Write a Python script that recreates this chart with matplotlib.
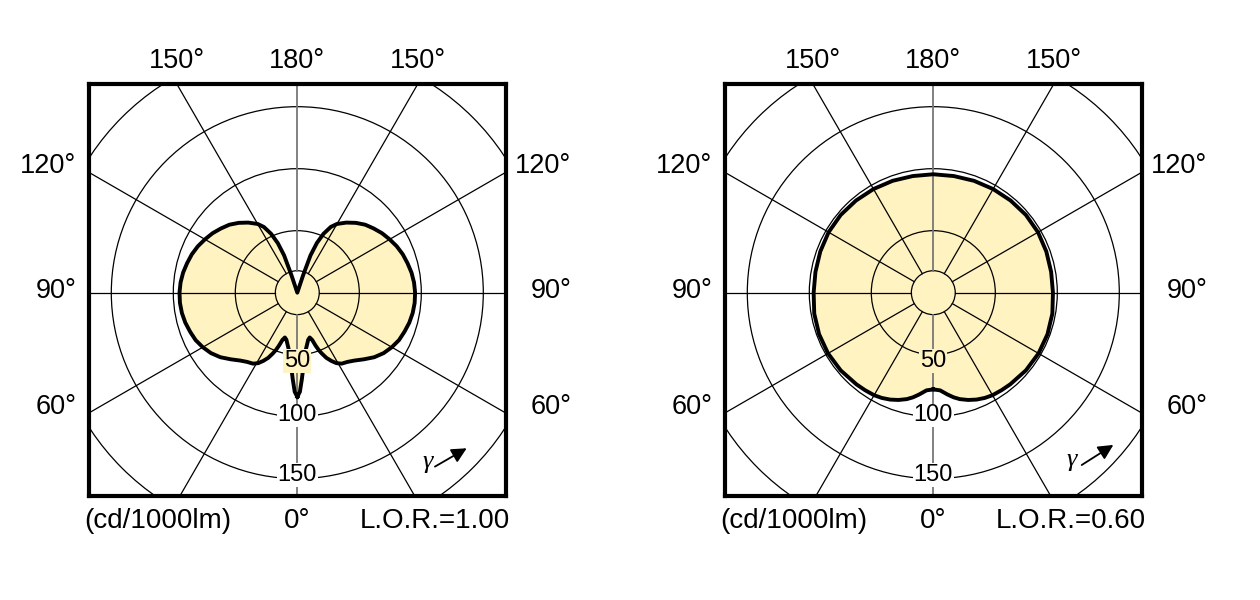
import numpy as np
import matplotlib
matplotlib.use("Agg")
import matplotlib.pyplot as plt
from matplotlib.patches import Circle


# luminous intensity (cd/1000lm), gamma 0 = straight down
LEFT_GAMMA = [0, 1.5, 3, 4.5, 6.5, 9, 11, 13, 15.5, 17.5, 19, 20.5, 22, 24, 26.5,
              29, 32, 36, 40, 45, 50, 55, 60, 65, 70, 75, 80, 85, 90, 95, 100,
              105, 110, 115, 120, 125, 130, 135, 140, 145, 150, 153, 156, 158.5,
              160.5, 161.5, 162, 180]
LEFT_CD = [84, 80, 70, 61, 52, 45.5, 42, 39, 37.5, 40, 45, 49.5, 53, 57.5, 61.5,
           65, 67.5, 69, 71.5, 76, 81, 85, 88, 90.5, 92, 93.5, 94.5, 95, 95, 94.5,
           93.5, 92, 90.5, 88.5, 86, 83.5, 80.5, 77.5, 73.5, 69, 64, 59.5, 52, 43,
           32, 15, 0, 0]

RIGHT_GAMMA = [0, 4, 8, 11, 14, 18, 22, 26, 30, 35, 40, 50, 60, 70, 80, 90, 100,
               110, 120, 130, 140, 150, 160, 170, 180]
RIGHT_CD = [78, 79, 83, 86, 88.5, 91, 93, 94.5, 95.5, 96, 96.5, 97.5, 98, 98,
            97.5, 96.5, 96.5, 97, 97.5, 97.5, 97, 96.5, 96, 95.5, 95.5]

LOR_LABELS = ["L.O.R.=1.00", "L.O.R.=0.60"]
RINGS = [50, 100, 150, 200]
RING_LABELS = ["50", "100", "150"]
INNER_RING = 17.7
SPOKES = list(range(0, 360, 30))
TOP_LABELS = ["150°", "180°", "150°"]
SIDE_LABELS = ["120°", "90°", "60°"]

FILL = "#fff3c2"
FONT = ["Liberation Sans", "DejaVu Sans"]

PX = 1.24          # pixels per cd/1000lm
HALF = 168         # half box width in data units


def draw_panel(ax, gamma, cd, lor):
    g = np.radians(gamma)
    r = np.asarray(cd, dtype=float)
    xr = r * np.sin(g)
    yr = -r * np.cos(g)
    x = np.concatenate([xr, -xr[::-1]])
    y = np.concatenate([yr, yr[::-1]])

    ax.fill(x, y, color=FILL, lw=0, zorder=1)

    for rad in RINGS + [INNER_RING]:
        ax.add_patch(Circle((0, 0), rad, fill=False, lw=0.9, ec="black", zorder=2))
    for a in SPOKES:
        t = np.radians(a)
        grey = a in (0, 180)
        ax.plot([INNER_RING * np.sin(t), 400 * np.sin(t)],
                [-INNER_RING * np.cos(t), -400 * np.cos(t)],
                color="#777777" if grey else "black",
                lw=1.3 if grey else 0.9, zorder=2)

    ax.plot(x, y, color="black", lw=2.8, solid_joinstyle="round", zorder=3)

    for rad, lab, yy in zip(RINGS, RING_LABELS, [-55, -99, -147]):
        bg = FILL if rad == 50 else "white"
        ax.text(0, yy, lab, ha="center", va="center", fontsize=17, family=FONT,
                zorder=4, bbox=dict(boxstyle="square,pad=0.03", fc=bg, ec="none"))

    ax.set_xlim(-HALF, HALF)
    ax.set_ylim(-164.0, 168.3)
    ax.set_xticks([])
    ax.set_yticks([])
    for s in ax.spines.values():
        s.set_linewidth(3)
        s.set_zorder(5)

    kw = dict(fontsize=19.5, family=FONT, va="center", clip_on=False)
    top_y = 187.0
    dx = 168.3 * np.tan(np.radians(30))
    for xx, lab in zip([-dx, 0, dx], TOP_LABELS):
        ax.text(xx, top_y, lab, ha="center", **kw)
    for yy, lab in zip([102, 1.0, -92.5], SIDE_LABELS):
        ax.text(-178, yy, lab, ha="right", **kw)
        ax.text(221, yy, lab, ha="right", **kw)
    kw["fontsize"] = 20
    ax.text(-172, -184.5, "(cd/1000lm)", ha="left", **kw)
    ax.text(0, -184.5, "0°", ha="center", **kw)
    ax.text(171.5, -184.5, lor, ha="right", **kw)


fig = plt.figure(figsize=(12.6, 6), dpi=100)
centers = [297.3, 933.3]
panels = [(LEFT_GAMMA, LEFT_CD), (RIGHT_GAMMA, RIGHT_CD)]
gamma_marks = [((104.8, -136.3), (111, -140.3), (136.6, -125.5)),
               ((111.6, -134.7), (119.7, -139), (145.2, -122.8))]

for cx, (gam, cd), lor, (gpos, a0, a1) in zip(centers, panels, LOR_LABELS, gamma_marks):
    left_px = cx - HALF * PX
    width_px = 2 * HALF * PX
    ax = fig.add_axes([left_px / 1260, 104 / 600, width_px / 1260, 412 / 600])
    draw_panel(ax, gam, cd, lor)
    ax.text(gpos[0], gpos[1], "γ", fontsize=19, style="italic",
            family=["Liberation Serif", "DejaVu Serif"], ha="center", va="center", zorder=4)
    ax.annotate("", xy=a1, xytext=a0,
                arrowprops=dict(arrowstyle="-|>,head_length=0.9,head_width=0.45",
                                color="black", lw=1.3, shrinkA=0, shrinkB=0),
                zorder=4)

fig.savefig("out.png", dpi=100)
